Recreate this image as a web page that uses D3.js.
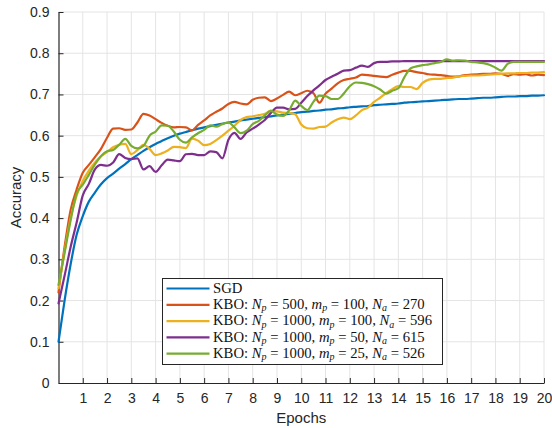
<!DOCTYPE html>
<html>
<head>
<meta charset="utf-8">
<script src="https://cdn.jsdelivr.net/npm/d3@7"></script>
<style>
  body { margin: 0; background: #fff; }
  svg { display: block; }
</style>
</head>
<body>
<svg id="chart" width="552" height="428"></svg>
<script>
// Training accuracy per epoch, sampled every quarter epoch
const epochs = d3.range(0, 20.001, 0.25);

const sgd = [
  0.100, 0.200, 0.288, 0.360, 0.405, 0.440, 0.462, 0.482, 0.497, 0.508,
  0.520, 0.531, 0.543, 0.553, 0.563, 0.572, 0.580, 0.587, 0.594, 0.600,
  0.605, 0.609, 0.613, 0.617, 0.620, 0.623, 0.626, 0.629, 0.632, 0.634,
  0.637, 0.639, 0.641, 0.643, 0.645, 0.647, 0.649, 0.651, 0.653, 0.655,
  0.657, 0.658, 0.660, 0.661, 0.663, 0.664, 0.666, 0.667, 0.669, 0.670,
  0.671, 0.672, 0.674, 0.675, 0.676, 0.677, 0.678, 0.680, 0.681, 0.682,
  0.683, 0.684, 0.685, 0.686, 0.687, 0.688, 0.689, 0.689, 0.690, 0.691,
  0.692, 0.692, 0.693, 0.694, 0.695, 0.695, 0.696, 0.696, 0.697, 0.697,
  0.698
];

const kboNp500mp100 = [
  0.220, 0.330, 0.420, 0.470, 0.510, 0.529, 0.548, 0.568, 0.595, 0.617,
  0.618, 0.614, 0.615, 0.632, 0.653, 0.649, 0.640, 0.631, 0.624, 0.620,
  0.621, 0.620, 0.613, 0.626, 0.637, 0.649, 0.658, 0.666, 0.677, 0.682,
  0.678, 0.676, 0.687, 0.692, 0.693, 0.684, 0.690, 0.699, 0.707, 0.698,
  0.703, 0.709, 0.703, 0.680, 0.702, 0.714, 0.727, 0.735, 0.738, 0.741,
  0.748, 0.747, 0.745, 0.743, 0.742, 0.748, 0.753, 0.757, 0.757, 0.754,
  0.752, 0.749, 0.748, 0.747, 0.745, 0.743, 0.744, 0.747, 0.748, 0.749,
  0.750, 0.750, 0.751, 0.750, 0.745, 0.749, 0.748, 0.749, 0.746, 0.748,
  0.747
];

const kboNp1000mp100 = [
  0.230, 0.320, 0.400, 0.455, 0.490, 0.515, 0.535, 0.550, 0.560, 0.572,
  0.578, 0.580, 0.555, 0.565, 0.578, 0.568, 0.553, 0.557, 0.564, 0.573,
  0.572, 0.570, 0.593, 0.588, 0.577, 0.580, 0.589, 0.600, 0.612, 0.624,
  0.638, 0.645, 0.647, 0.650, 0.653, 0.661, 0.659, 0.656, 0.655, 0.652,
  0.627, 0.618, 0.617, 0.621, 0.622, 0.632, 0.640, 0.644, 0.640, 0.649,
  0.662, 0.668, 0.682, 0.692, 0.703, 0.713, 0.720, 0.718, 0.718, 0.713,
  0.728, 0.736, 0.738, 0.738, 0.740, 0.741, 0.744, 0.745, 0.746, 0.746,
  0.747, 0.748, 0.749, 0.750, 0.751, 0.751, 0.752, 0.752, 0.753, 0.753,
  0.754
];

const kboNp1000mp50 = [
  0.193, 0.260, 0.330, 0.390, 0.455, 0.483, 0.518, 0.529, 0.527, 0.535,
  0.555, 0.546, 0.543, 0.545, 0.518, 0.526, 0.512, 0.528, 0.542, 0.540,
  0.538, 0.555, 0.556, 0.553, 0.553, 0.562, 0.560, 0.545, 0.590, 0.607,
  0.592, 0.608, 0.617, 0.627, 0.638, 0.655, 0.668, 0.668, 0.664, 0.665,
  0.680, 0.696, 0.710, 0.722, 0.735, 0.743, 0.750, 0.758, 0.759, 0.765,
  0.770, 0.767, 0.776, 0.779, 0.779, 0.780, 0.780, 0.781, 0.781, 0.781,
  0.781, 0.781, 0.781, 0.781, 0.781, 0.781, 0.781, 0.781, 0.781, 0.781,
  0.781, 0.781, 0.781, 0.781, 0.781, 0.781, 0.781, 0.781, 0.781, 0.781,
  0.781
];

const kboNp1000mp25 = [
  0.238, 0.315, 0.395, 0.460, 0.481, 0.505, 0.530, 0.550, 0.562, 0.565,
  0.578, 0.592, 0.575, 0.569, 0.575, 0.600, 0.610, 0.625, 0.624, 0.610,
  0.590, 0.583, 0.596, 0.606, 0.614, 0.625, 0.622, 0.628, 0.632, 0.620,
  0.606, 0.612, 0.628, 0.636, 0.649, 0.660, 0.651, 0.648, 0.661, 0.685,
  0.672, 0.662, 0.682, 0.697, 0.696, 0.689, 0.689, 0.702, 0.720, 0.729,
  0.728, 0.725, 0.720, 0.712, 0.702, 0.709, 0.715, 0.742, 0.763, 0.768,
  0.771, 0.773, 0.776, 0.779, 0.785, 0.782, 0.783, 0.782, 0.779, 0.778,
  0.776, 0.772, 0.765, 0.758, 0.774, 0.779, 0.779, 0.779, 0.779, 0.779,
  0.779
];

// Legend parameters for the KBO runs
const kboNp = [500, 1000, 1000, 1000];
const kboMp = [100, 100, 50, 25];
const kboNa = [270, 596, 615, 526];

const xTicks = d3.range(1, 21);
const yTicks = [0, 0.1, 0.2, 0.3, 0.4, 0.5, 0.6, 0.7, 0.8, 0.9];
const yTickLabels = ["0", "0.1", "0.2", "0.3", "0.4", "0.5", "0.6", "0.7", "0.8", "0.9"];

const colors = ["#0072BD", "#D95319", "#EDB120", "#7E2F8E", "#77AC30"];
const seriesValues = [sgd, kboNp500mp100, kboNp1000mp100, kboNp1000mp50, kboNp1000mp25];

const margin = { left: 58.5, right: 8, top: 12, bottom: 45 };
const W = 552, H = 428;
const svg = d3.select("#chart");

const x = d3.scaleLinear().domain([0, 20]).range([margin.left, W - margin.right]);
const y = d3.scaleLinear().domain([0, 0.9]).range([H - margin.bottom, margin.top]);

const axisColor = "#262626";
const gridColor = "#e4e4e4";
const tickFont = "'Liberation Sans', Arial, Helvetica, sans-serif";

// grid
const grid = svg.append("g");
grid.selectAll("line.vx").data(xTicks).join("line")
  .attr("x1", d => x(d)).attr("x2", d => x(d))
  .attr("y1", y(0)).attr("y2", y(0.9))
  .attr("stroke", gridColor).attr("stroke-width", 1);
grid.selectAll("line.hy").data(yTicks.slice(1)).join("line")
  .attr("x1", x(0)).attr("x2", x(20))
  .attr("y1", d => y(d)).attr("y2", d => y(d))
  .attr("stroke", gridColor).attr("stroke-width", 1);

// axes
const xAxis = d3.axisBottom(x).tickValues(xTicks).tickSizeInner(-5).tickSizeOuter(0).tickPadding(10)
  .tickFormat(d3.format("d"));
const gx = svg.append("g").attr("transform", `translate(0,${y(0)})`).call(xAxis);

const yAxis = d3.axisLeft(y).tickValues(yTicks).tickSizeInner(-5).tickSizeOuter(0).tickPadding(8)
  .tickFormat((d, i) => yTickLabels[i]);
const gy = svg.append("g").attr("transform", `translate(${x(0)},0)`).call(yAxis);

[gx, gy].forEach(g => {
  g.select(".domain").attr("stroke", axisColor).attr("stroke-width", 1.2);
  g.selectAll(".tick line").attr("stroke", axisColor).attr("stroke-width", 1);
  g.selectAll(".tick text").attr("fill", axisColor)
    .style("font-family", tickFont).style("font-size", "14px");
});
gx.selectAll(".tick text").attr("dy", "0.71em");
gy.selectAll(".tick text").attr("dx", "-1");

// axis titles
svg.append("text")
  .attr("x", (x(0) + x(20)) / 2).attr("y", 423)
  .attr("text-anchor", "middle").attr("fill", axisColor)
  .style("font-family", tickFont).style("font-size", "15px")
  .text("Epochs");
svg.append("text")
  .attr("transform", `translate(21,${(y(0) + y(0.9)) / 2}) rotate(-90)`)
  .attr("text-anchor", "middle").attr("fill", axisColor)
  .style("font-family", tickFont).style("font-size", "15px")
  .text("Accuracy");

// curves
const line = d3.line()
  .x((d, i) => x(epochs[i]))
  .y(d => y(d))
  .curve(d3.curveMonotoneX);

svg.append("g").selectAll("path").data(seriesValues).join("path")
  .attr("d", d => line(d))
  .attr("fill", "none")
  .attr("stroke", (d, i) => colors[i])
  .attr("stroke-width", 2.2)
  .attr("stroke-linejoin", "round")
  .attr("stroke-linecap", "round");

// legend
const legend = { x0: 162.5, y0: 278.5, w: 280, h: 86, rowY0: 288.5, rowStep: 16.3 };
const lg = svg.append("g");
lg.append("rect")
  .attr("x", legend.x0).attr("y", legend.y0)
  .attr("width", legend.w).attr("height", legend.h)
  .attr("fill", "#fff").attr("stroke", axisColor).attr("stroke-width", 1);

const legendRows = [[["SGD", "r"]]].concat(kboNp.map((np, i) => [
  ["KBO: ", "r"], ["N", "i"], ["p", "s"], [` = ${np}, `, "r"],
  ["m", "i"], ["p", "s"], [` = ${kboMp[i]}, `, "r"],
  ["N", "i"], ["a", "s"], [` = ${kboNa[i]}`, "r"]
]));

const serif = "'Liberation Serif', 'Times New Roman', serif";
const subShift = 2.2;
const texts = [];
legendRows.forEach((segs, r) => {
  const cy = legend.rowY0 + r * legend.rowStep;
  lg.append("line")
    .attr("x1", 166.5).attr("x2", 209.5)
    .attr("y1", cy).attr("y2", cy)
    .attr("stroke", colors[r]).attr("stroke-width", 2.2);
  const t = lg.append("text")
    .attr("x", 213).attr("y", cy + 4.3)
    .attr("fill", "#111")
    .style("font-family", serif).style("font-size", "14px");
  let prevSub = false;
  segs.forEach(([s, kind]) => {
    const ts = t.append("tspan").text(s);
    if (kind === "i") ts.style("font-style", "italic");
    if (kind === "s") {
      ts.classed("sub", true).style("font-style", "italic").attr("dy", subShift);
    } else if (prevSub) {
      ts.attr("dy", -subShift);
    }
    prevSub = kind === "s";
  });
  texts.push(t);
});

// fit the longest legend entry to the box width
const targetWidth = 219;
const widest = d3.max(texts, t => t.node().getComputedTextLength());
const fs = 14 * targetWidth / widest;
texts.forEach(t => {
  t.style("font-size", fs + "px");
  t.selectAll("tspan.sub").style("font-size", (fs * 0.68) + "px");
});
// re-fit after the subscripts shrink
const widest2 = d3.max(texts, t => t.node().getComputedTextLength());
const fs2 = fs * targetWidth / widest2;
texts.forEach(t => {
  t.style("font-size", fs2 + "px");
  t.selectAll("tspan.sub").style("font-size", (fs2 * 0.68) + "px");
});
</script>
</body>
</html>
